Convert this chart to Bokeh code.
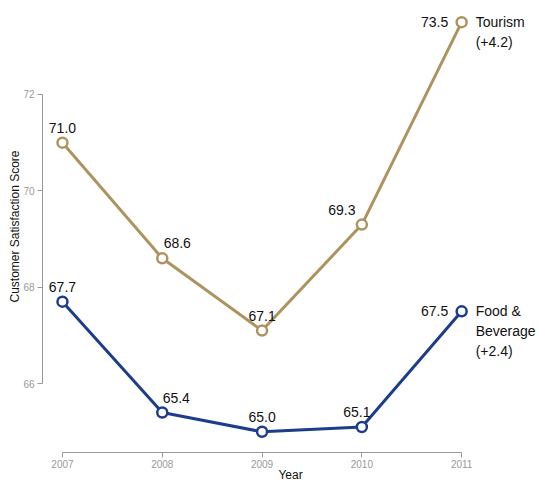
from bokeh.plotting import figure
from bokeh.models import ColumnDataSource, Range1d, FixedTicker
from bokeh.core.properties import value
from bokeh.embed import file_html
from bokeh.resources import INLINE

years = [2007, 2008, 2009, 2010, 2011]
tourism = [71.0, 68.6, 67.1, 69.3, 73.5]
food_bev = [67.7, 65.4, 65.0, 65.1, 67.5]
series_names = ["Tourism", "Food & Beverage"]
series_name_lines = [["Tourism", "(+4.2)"], ["Food &", "Beverage", "(+2.4)"]]
y_ticks = [66, 68, 70, 72]

colors = ["#ad935e", "#1c3d8a"]
# label offsets (screen px) per point, styling only
label_dx = [[0, 15, 0, -20, -27], [0, 14, 0, -5, -27]]
label_dy = [[-15, -15, -15, -15, 0], [-15, -15, -15, -15, 0]]

FONT = "Liberation Sans"

p = figure(width=538, height=484, output_backend="svg", toolbar_location=None,
           x_range=Range1d(2006.8, 2011.77), y_range=Range1d(64.57, 73.95),
           min_border_left=42, min_border_bottom=32, min_border_top=0, min_border_right=0)
p.outline_line_color = None
p.grid.grid_line_color = None
p.background_fill_color = "white"
p.border_fill_color = "white"

for ax in (p.xaxis[0], p.yaxis[0]):
    ax.axis_line_color = "#999999"
    ax.major_tick_line_color = "#999999"
    ax.minor_tick_line_color = None
    ax.major_tick_in = 0
    ax.major_tick_out = 5
    ax.major_label_text_color = "#999999"
    ax.major_label_text_font = FONT
    ax.major_label_text_font_size = "10px"
    ax.major_label_standoff = 3
    ax.axis_label_text_font = FONT
    ax.axis_label_text_font_style = "normal"
    ax.axis_label_text_color = "#111111"

p.xaxis.ticker = FixedTicker(ticks=years)
p.xaxis.bounds = (years[0], years[-1])
p.xaxis.axis_label = "Year"
p.xaxis.axis_label_text_font_size = "12px"
p.xaxis.axis_label_standoff = -3
p.xaxis.major_label_standoff = 2

p.yaxis.ticker = FixedTicker(ticks=y_ticks)
p.yaxis.bounds = (y_ticks[0], y_ticks[-1])
p.yaxis.axis_label = "Customer Satisfaction Score"
p.yaxis.axis_label_text_font_size = "12px"
p.yaxis.axis_label_standoff = -2

for i, vals in enumerate([tourism, food_bev]):
    src = ColumnDataSource(dict(x=years, y=vals,
                                lbl=[f"{v:.1f}" for v in vals],
                                dx=label_dx[i], dy=label_dy[i]))
    p.line("x", "y", source=src, line_color=colors[i], line_width=3)
    p.scatter("x", "y", source=src, size=10, fill_color="white",
              line_color=colors[i], line_width=2.5)
    p.text("x", "y", text="lbl", source=src, x_offset="dx", y_offset="dy",
           text_align="center", text_baseline="middle",
           text_font=value(FONT), text_font_size="14px", text_color="#111111")
    lines = series_name_lines[i]
    nsrc = ColumnDataSource(dict(x=[years[-1]] * len(lines), y=[vals[-1]] * len(lines),
                                 t=lines, dy=[20 * k for k in range(len(lines))]))
    p.text("x", "y", text="t", source=nsrc, x_offset=14, y_offset="dy",
           text_align="left", text_baseline="middle",
           text_font=value(FONT), text_font_size="14px", text_color="#111111")

open("out.html", "w").write(file_html(p, INLINE))
